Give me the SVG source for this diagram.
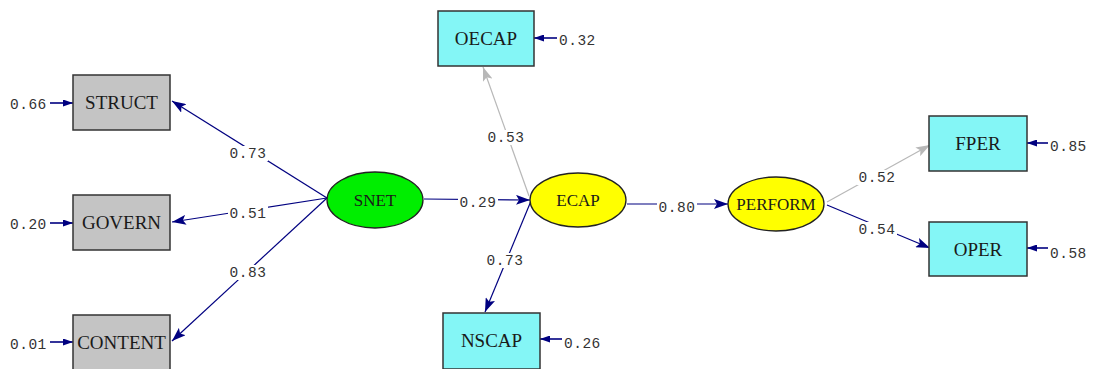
<svg xmlns="http://www.w3.org/2000/svg" width="1095" height="369" viewBox="0 0 1095 369">
<style>
.obs rect{stroke:#333;stroke-width:1.5}
.gray rect{fill:#c4c4c4}
.cyan rect{fill:#84f6f6}
.lat ellipse{stroke:#222;stroke-width:1.3}
.nt{font-family:"Liberation Serif",serif;font-size:19px;fill:#1a1a1a;text-anchor:middle}
.lt{font-family:"Liberation Serif",serif;font-size:17px;fill:#1a1a1a;text-anchor:middle}
.c{stroke:#000080;stroke-width:1.2;fill:none}
.g{stroke:#b8b8b8;stroke-width:1.2;fill:none}
.r{stroke:#000080;stroke-width:1.6;fill:none}
.bg{fill:#fff}
.lb{font-family:"Liberation Mono",monospace;font-size:14.5px;fill:#333;text-anchor:middle;letter-spacing:0.5px}
.rl{font-family:"Liberation Mono",monospace;font-size:14.5px;fill:#333;letter-spacing:0.5px}
</style>
<defs>
<marker id="an" markerUnits="userSpaceOnUse" markerWidth="14" markerHeight="10" refX="14" refY="5" orient="auto"><path d="M0,0 L14,5 L0,10 L3,5 z" fill="#000080"/></marker>
<marker id="ag" markerUnits="userSpaceOnUse" markerWidth="14" markerHeight="10" refX="14" refY="5" orient="auto"><path d="M0,0 L14,5 L0,10 L3,5 z" fill="#b8b8b8"/></marker>
<marker id="ar" markerUnits="userSpaceOnUse" markerWidth="10" markerHeight="7" refX="10" refY="3.5" orient="auto"><path d="M0,0 L10,3.5 L0,7 z" fill="#000080"/></marker>
</defs>
<g id="connectors">
<line class="c" x1="327" y1="198" x2="172" y2="101" marker-end="url(#an)"/>
<line class="c" x1="327" y1="198" x2="172" y2="222" marker-end="url(#an)"/>
<line class="c" x1="327" y1="198" x2="172" y2="341" marker-end="url(#an)"/>
<line class="c" x1="424" y1="199" x2="530" y2="200" marker-end="url(#an)"/>
<line class="g" x1="529" y1="196" x2="483" y2="67" marker-end="url(#ag)"/>
<line class="c" x1="531" y1="201" x2="485" y2="312" marker-end="url(#an)"/>
<line class="c" x1="627" y1="204" x2="728" y2="204" marker-end="url(#an)"/>
<line class="g" x1="827" y1="202" x2="930" y2="145" marker-end="url(#ag)"/>
<line class="c" x1="827" y1="205" x2="930" y2="248" marker-end="url(#an)"/>
<line class="r" x1="50" y1="103" x2="73" y2="103" marker-end="url(#ar)"/>
<line class="r" x1="50" y1="223" x2="73" y2="223" marker-end="url(#ar)"/>
<line class="r" x1="50" y1="342" x2="73" y2="342" marker-end="url(#ar)"/>
<line class="r" x1="557" y1="38" x2="534" y2="38" marker-end="url(#ar)"/>
<line class="r" x1="562" y1="339" x2="540" y2="339" marker-end="url(#ar)"/>
<line class="r" x1="1048" y1="143" x2="1027" y2="143" marker-end="url(#ar)"/>
<line class="r" x1="1048" y1="248" x2="1027" y2="248" marker-end="url(#ar)"/>
<rect class="bg" x="228" y="146" width="40" height="15"/>
<rect class="bg" x="228" y="206" width="40" height="15"/>
<rect class="bg" x="228" y="265" width="40" height="15"/>
<rect class="bg" x="458" y="195" width="40" height="15"/>
<rect class="bg" x="486" y="130" width="40" height="15"/>
<rect class="bg" x="485" y="253" width="40" height="15"/>
<rect class="bg" x="657" y="200" width="40" height="15"/>
<rect class="bg" x="857" y="170" width="40" height="15"/>
<rect class="bg" x="857" y="222" width="40" height="15"/>
<text class="lb" x="248" y="158">0.73</text>
<text class="lb" x="248" y="218">0.51</text>
<text class="lb" x="248" y="277">0.83</text>
<text class="lb" x="478" y="207">0.29</text>
<text class="lb" x="506" y="142">0.53</text>
<text class="lb" x="505" y="265">0.73</text>
<text class="lb" x="677" y="212">0.80</text>
<text class="lb" x="877" y="182">0.52</text>
<text class="lb" x="877" y="234">0.54</text>
<text class="rl" x="10" y="109">0.66</text>
<text class="rl" x="10" y="229">0.20</text>
<text class="rl" x="10" y="349">0.01</text>
<text class="rl" x="559" y="45">0.32</text>
<text class="rl" x="564" y="348">0.26</text>
<text class="rl" x="1050" y="151">0.85</text>
<text class="rl" x="1050" y="258">0.58</text>
</g>
<g id="STRUCT" class="obs gray"><rect x="73" y="75" width="97" height="55"/><text class="nt" x="121.5" y="109">STRUCT</text></g>
<g id="GOVERN" class="obs gray"><rect x="73" y="195" width="97" height="55"/><text class="nt" x="121.5" y="229">GOVERN</text></g>
<g id="CONTENT" class="obs gray"><rect x="73" y="315" width="97" height="56"/><text class="nt" x="121.5" y="349">CONTENT</text></g>
<g id="OECAP" class="obs cyan"><rect x="438" y="11" width="96" height="55"/><text class="nt" x="486" y="45">OECAP</text></g>
<g id="NSCAP" class="obs cyan"><rect x="443" y="313" width="97" height="56"/><text class="nt" x="491.5" y="347">NSCAP</text></g>
<g id="FPER" class="obs cyan"><rect x="929" y="116" width="98" height="55"/><text class="nt" x="978" y="150">FPER</text></g>
<g id="OPER" class="obs cyan"><rect x="929" y="222" width="98" height="54"/><text class="nt" x="978" y="256">OPER</text></g>
<g id="SNET" class="lat"><ellipse cx="375" cy="200" rx="48" ry="28" fill="#00ee00"/><text class="lt" x="375" y="206">SNET</text></g>
<g id="ECAP" class="lat"><ellipse cx="578" cy="200" rx="48" ry="27" fill="#ffff00"/><text class="lt" x="578" y="206">ECAP</text></g>
<g id="PERFORM" class="lat"><ellipse cx="776" cy="204" rx="48" ry="27" fill="#ffff00"/><text class="lt" x="776" y="210">PERFORM</text></g>
</svg>
